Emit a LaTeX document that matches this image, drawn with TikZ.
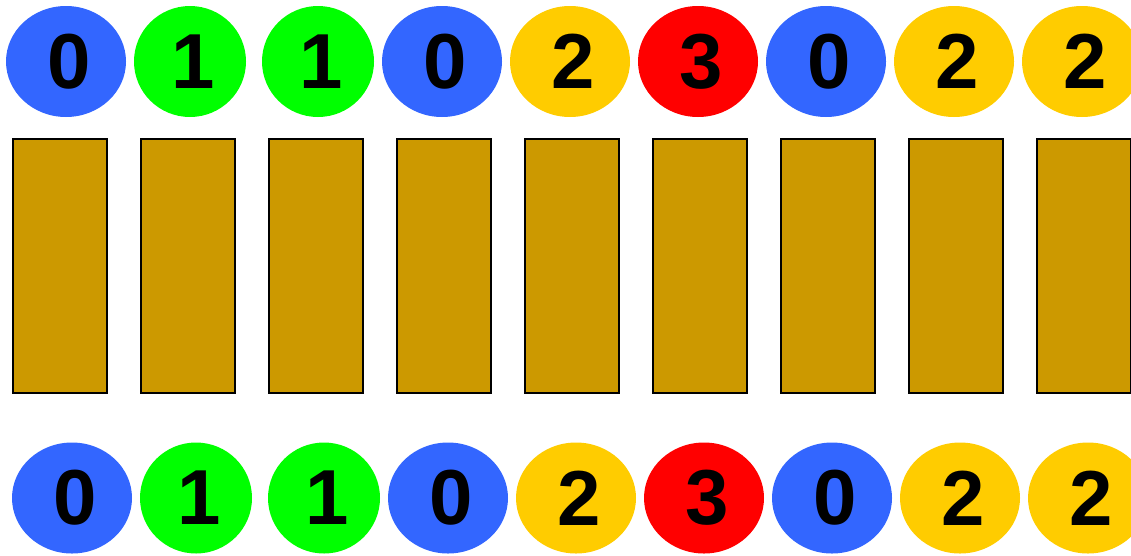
\documentclass[tikz,border=0pt]{standalone}
\usepackage{fontspec}
\setmainfont{Liberation Sans}
\usepackage{tikz}
\usetikzlibrary{shapes.geometric}
\definecolor{tokblue}{HTML}{3366FF}
\definecolor{tokgreen}{HTML}{00FF00}
\definecolor{tokyellow}{HTML}{FFCC00}
\definecolor{tokred}{HTML}{FF0000}
\definecolor{slotgold}{HTML}{CC9900}
\tikzset{
  tok/.style={ellipse, inner sep=0pt, minimum width=120pt, minimum height=111pt,
    font=\fontsize{78}{78}\selectfont\bfseries,
    execute at begin node=\hspace*{7pt}},
  tok0/.style={tok, fill=tokblue},
  tok1/.style={tok, fill=tokgreen, minimum width=112pt},
  tok2/.style={tok, fill=tokyellow},
  tok3/.style={tok, fill=tokred},
  slot/.style={draw, line width=1.6pt, fill=slotgold, inner sep=0pt,
    minimum width=94.5pt, minimum height=254.5pt}
}

\begin{document}
\begin{tikzpicture}[x=1pt, y=-1pt]
    \useasboundingbox (0,0) rectangle (1131,555);
    % top row
    \node[tok0] (top1) at (66,61.5) {0};
    \node[tok1] (top2) at (190,61.5) {1};
    \node[tok1] (top3) at (318,61.5) {1};
    \node[tok0] (top4) at (442,61.5) {0};
    \node[tok2] (top5) at (570,61.5) {2};
    \node[tok3] (top6) at (698,61.5) {3};
    \node[tok0] (top7) at (826,61.5) {0};
    \node[tok2] (top8) at (954,61.5) {2};
    \node[tok2] (top9) at (1082,61.5) {2};
    % slots
    \node[slot] (slot1) at (60,266) {};
    \node[slot] (slot2) at (188,266) {};
    \node[slot] (slot3) at (316,266) {};
    \node[slot] (slot4) at (444,266) {};
    \node[slot] (slot5) at (572,266) {};
    \node[slot] (slot6) at (700,266) {};
    \node[slot] (slot7) at (828,266) {};
    \node[slot] (slot8) at (956,266) {};
    \node[slot] (slot9) at (1084,266) {};
    % bottom row
    \node[tok0] (bot1) at (72,498) {0};
    \node[tok1] (bot2) at (196,498) {1};
    \node[tok1] (bot3) at (324,498) {1};
    \node[tok0] (bot4) at (448,498) {0};
    \node[tok2] (bot5) at (576,498) {2};
    \node[tok3] (bot6) at (704,498) {3};
    \node[tok0] (bot7) at (832,498) {0};
    \node[tok2] (bot8) at (960,498) {2};
    \node[tok2] (bot9) at (1088,498) {2};
  \end{tikzpicture}
\end{document}
